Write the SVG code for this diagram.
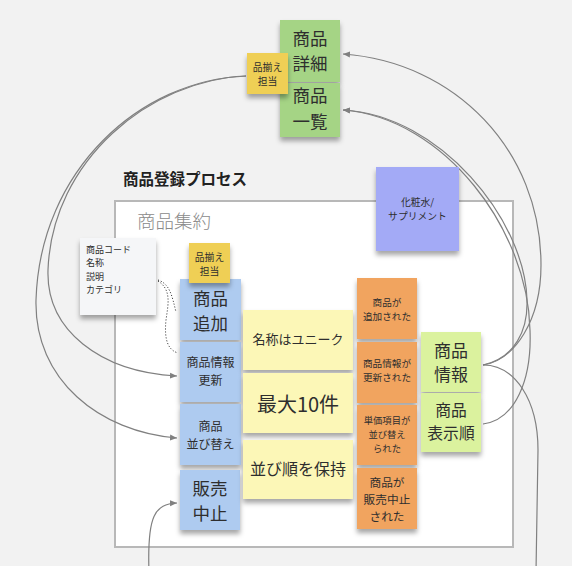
<svg xmlns="http://www.w3.org/2000/svg" width="572" height="566" viewBox="0 0 572 566">
<defs>
<filter id="sh" x="-20%" y="-20%" width="140%" height="150%">
<feDropShadow dx="0" dy="4" stdDeviation="2.5" flood-color="#000" flood-opacity="0.35"/>
</filter>
<marker id="arr" markerWidth="8" markerHeight="8" refX="7" refY="4" orient="auto" markerUnits="userSpaceOnUse">
<path d="M0,1 L7,4 L0,7 Z" fill="#808080"/>
</marker>
<style>
text{font-family:"Noto Sans CJK JP","Noto Sans",sans-serif;fill:#2e2e2e;text-anchor:middle;dominant-baseline:central}
.note{filter:url(#sh)}
.green{fill:#a5d485}
.gold{fill:#efcf54}
.blue{fill:#aecbf0}
.ly{fill:#fcf7b7}
.or{fill:#f1a45e}
.lime{fill:#dbf29e}
.pur{fill:#a3aaf6}
.card{fill:#f5f6f8}
.conn path{fill:none;stroke:#808080;stroke-width:1.2}
.conn path.dot{fill:none;stroke:#222;stroke-width:1;stroke-dasharray:1 2}
</style>
</defs>
<rect x="0" y="0" width="572" height="566" fill="#f2f2f2"/>
<g id="frame">
<rect x="115" y="201" width="398" height="346" fill="#fff" stroke="#b8b8b8" stroke-width="2"/>
<text x="123" y="178" style="text-anchor:start;font-size:15.5px;font-weight:bold;fill:#222">商品登録プロセス</text>
<text x="137" y="220" style="text-anchor:start;font-size:18.5px;fill:#8a8a8a;font-weight:300">商品集約</text>
</g>
<g id="connectors" class="conn">
<path d="M246,76 C150,80 52,160 48,270 C46,330 100,372 177,376" marker-end="url(#arr)"/>
<path d="M246,76 C140,80 40,170 36,300 C34,380 100,432 177,438" marker-end="url(#arr)"/>
<path d="M149,572 C147,515 155,504 177,503" marker-end="url(#arr)"/>
<path d="M483,365 C515,360 541,320 541,265 C541,150 455,62 343,54" marker-end="url(#arr)"/>
<path d="M483,365 C515,358 528,330 527,300 C525,220 440,115 343,110" marker-end="url(#arr)"/>
<path d="M483,424 C515,420 532,380 530,330 C528,230 445,118 343,110" marker-end="url(#arr)"/>
<path d="M483,365 C515,365 538,400 538,450 L536,572"/>
<path class="dot" d="M158,280 C170,284 172,296 176,312"/>
<path class="dot" d="M158,281 C172,290 168,305 166,320 C164,340 168,350 178,353"/>
</g>
<g id="n-shosai"><rect class="note green" x="280" y="20" width="60" height="62"/><text x="310" y="37" font-size="17.5">商品</text><text x="310" y="62" font-size="17.5">詳細</text></g>
<g id="n-ichiran"><rect class="note green" x="280" y="83" width="60" height="54"/><text x="310" y="94" font-size="17.5">商品</text><text x="310" y="120" font-size="17.5">一覧</text></g>
<g id="n-tanto1"><rect class="note gold" x="247" y="53" width="41" height="41"/><text x="267.5" y="66.5" font-size="9.8">品揃え</text><text x="267.5" y="81" font-size="9.8">担当</text></g>
<g id="n-card"><rect class="note card" x="80" y="238" width="76" height="77"/>
<text x="86" y="249.5" font-size="9" style="text-anchor:start">商品コード</text>
<text x="86" y="262.8" font-size="9" style="text-anchor:start">名称</text>
<text x="86" y="276.1" font-size="9" style="text-anchor:start">説明</text>
<text x="86" y="289.4" font-size="9" style="text-anchor:start">カテゴリ</text></g>
<g id="n-tsuika"><rect class="note blue" x="180" y="279" width="61" height="61"/><text x="210.5" y="297" font-size="17.5">商品</text><text x="210.5" y="322" font-size="17.5">追加</text></g>
<g id="n-tanto2"><rect class="note gold" x="189" y="243" width="41" height="40"/><text x="209.5" y="256.5" font-size="9.8">品揃え</text><text x="209.5" y="271" font-size="9.8">担当</text></g>
<g id="n-koshin"><rect class="note blue" x="180" y="342" width="61" height="60"/><text x="210.5" y="361.5" font-size="12">商品情報</text><text x="210.5" y="379" font-size="12">更新</text></g>
<g id="n-narabikae"><rect class="note blue" x="180" y="404" width="61" height="61"/><text x="210.5" y="425" font-size="12">商品</text><text x="210.5" y="443" font-size="12">並び替え</text></g>
<g id="n-hanbai"><rect class="note blue" x="180" y="470" width="60" height="60"/><text x="210" y="487" font-size="17.5">販売</text><text x="210" y="512" font-size="17.5">中止</text></g>
<g id="n-unique"><rect class="note ly" x="243" y="310" width="110" height="60"/><text x="298" y="338" font-size="13">名称はユニーク</text></g>
<g id="n-max"><rect class="note ly" x="243" y="373" width="110" height="60"/><text x="298" y="403" font-size="20">最大10件</text></g>
<g id="n-order"><rect class="note ly" x="243" y="440" width="110" height="59"/><text x="298" y="468" font-size="16">並び順を保持</text></g>
<g id="e-added"><rect class="note or" x="357" y="278" width="60" height="61"/><text x="387" y="301.5" font-size="9.6">商品が</text><text x="387" y="315.5" font-size="9.6">追加された</text></g>
<g id="e-updated"><rect class="note or" x="357" y="342" width="60" height="61"/><text x="387" y="363" font-size="9.6">商品情報が</text><text x="387" y="377" font-size="9.6">更新された</text></g>
<g id="e-sorted"><rect class="note or" x="357" y="405" width="60" height="60"/><text x="387" y="420.3" font-size="9.3">単価項目が</text><text x="387" y="433.9" font-size="9.3">並び替え</text><text x="387" y="447.5" font-size="9.3">られた</text></g>
<g id="e-stopped"><rect class="note or" x="357" y="468" width="60" height="61"/><text x="387" y="481" font-size="11.7">商品が</text><text x="387" y="498" font-size="11.7">販売中止</text><text x="387" y="515" font-size="11.7">された</text></g>
<g id="r-info"><rect class="note lime" x="421" y="332" width="60" height="60"/><text x="451" y="349.5" font-size="17">商品</text><text x="451" y="373.5" font-size="17">情報</text></g>
<g id="r-order"><rect class="note lime" x="421" y="393" width="60" height="59"/><text x="451" y="409.5" font-size="15.8">商品</text><text x="451" y="432.5" font-size="15.8">表示順</text></g>
<g id="n-category"><rect class="note pur" x="376" y="167" width="83" height="84"/><text x="417.5" y="201.5" font-size="9.8">化粧水/</text><text x="417.5" y="216" font-size="9.8">サプリメント</text></g>
</svg>
